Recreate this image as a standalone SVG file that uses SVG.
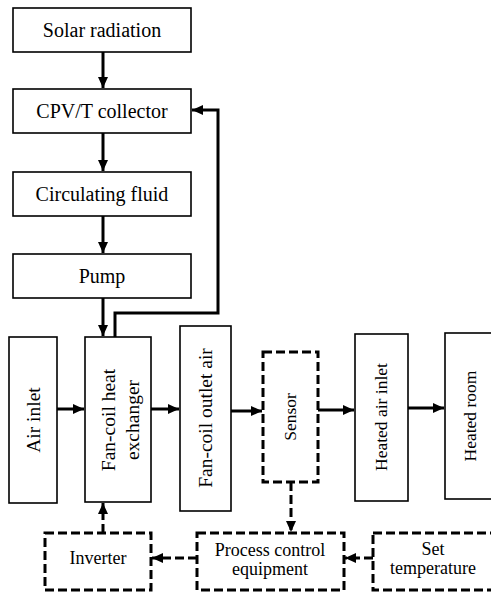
<svg xmlns="http://www.w3.org/2000/svg" width="491" height="594" viewBox="0 0 491 594">
<style>
.box{fill:#fff;stroke:#000;stroke-width:1.6}
.dbox{fill:#fff;stroke:#000;stroke-width:3;stroke-dasharray:9 4}
.t{fill:#000;text-anchor:middle}
.w{stroke:#000;stroke-width:3;fill:none}
.d{stroke:#000;stroke-width:3;fill:none;stroke-dasharray:9 4}
</style>
<defs>
<marker id="ah" markerUnits="userSpaceOnUse" markerWidth="12" markerHeight="12" viewBox="0 0 12 12" refX="11" refY="6" orient="auto">
<path d="M0,1 L11,6 L0,11 Z" fill="#000"/>
</marker>
</defs>
<g font-family="Liberation Serif, DejaVu Serif, serif">
<g id="solar"><rect class="box" x="13" y="8" width="178" height="44"/><text class="t" x="102" y="37" font-size="20">Solar radiation</text></g>
<g id="cpvt"><rect class="box" x="13" y="89" width="178" height="44"/><text class="t" x="102" y="118" font-size="20">CPV/T collector</text></g>
<g id="fluid"><rect class="box" x="13" y="172" width="178" height="44"/><text class="t" x="102" y="201" font-size="20">Circulating fluid</text></g>
<g id="pump"><rect class="box" x="13" y="254" width="178" height="44"/><text class="t" x="102" y="283" font-size="20">Pump</text></g>
<g id="airinlet"><rect class="box" x="9" y="337" width="48" height="166"/><text class="t" font-size="19.5" transform="translate(40,420) rotate(-90)">Air inlet</text></g>
<g id="fancoil"><rect class="box" x="85" y="337" width="66" height="165"/><text class="t" font-size="19.5" transform="translate(115,420) rotate(-90)">Fan-coil heat</text><text class="t" font-size="19.5" transform="translate(139,420) rotate(-90)">exchanger</text></g>
<g id="outletair"><rect class="box" x="180" y="326" width="51" height="185"/><text class="t" font-size="19.5" transform="translate(212,418) rotate(-90)">Fan-coil outlet air</text></g>
<g id="sensor"><rect class="dbox" x="263" y="352" width="55" height="130"/><text class="t" font-size="17.5" transform="translate(296,417) rotate(-90)">Sensor</text></g>
<g id="heatedair"><rect class="box" x="355" y="334" width="53" height="167"/><text class="t" font-size="17.5" transform="translate(387,417) rotate(-90)">Heated air inlet</text></g>
<g id="heatedroom"><rect class="box" x="445" y="333" width="50" height="166"/><text class="t" font-size="17.5" transform="translate(476,416) rotate(-90)">Heated room</text></g>
<g id="inverter"><rect class="dbox" x="45" y="533" width="106" height="57"/><text class="t" x="98" y="564" font-size="18">Inverter</text></g>
<g id="process"><rect class="dbox" x="197" y="533" width="147" height="57"/><text class="t" x="270" y="556" font-size="18">Process control</text><text class="t" x="270" y="575" font-size="18">equipment</text></g>
<g id="settemp"><rect class="dbox" x="373" y="533" width="124" height="57"/><text class="t" x="433" y="555" font-size="18">Set</text><text class="t" x="433" y="574" font-size="18">temperature</text></g>
</g>
<g id="connectors">
<line class="w" x1="103" y1="52" x2="103" y2="88" marker-end="url(#ah)"/>
<line class="w" x1="103" y1="133" x2="103" y2="171" marker-end="url(#ah)"/>
<line class="w" x1="103" y1="216" x2="103" y2="253" marker-end="url(#ah)"/>
<line class="w" x1="103" y1="298" x2="103" y2="336" marker-end="url(#ah)"/>
<path class="w" d="M115,337 V313 H218 V110 H192" marker-end="url(#ah)"/>
<line class="w" x1="57" y1="409" x2="84" y2="409" marker-end="url(#ah)"/>
<line class="w" x1="151" y1="409" x2="179" y2="409" marker-end="url(#ah)"/>
<line class="w" x1="231" y1="411" x2="262" y2="411" marker-end="url(#ah)"/>
<line class="w" x1="318" y1="410" x2="354" y2="410" marker-end="url(#ah)"/>
<line class="w" x1="408" y1="408" x2="444" y2="408" marker-end="url(#ah)"/>
<line class="d" x1="291" y1="482" x2="291" y2="532" marker-end="url(#ah)"/>
<line class="d" x1="197" y1="558" x2="152" y2="558" marker-end="url(#ah)"/>
<line class="d" x1="373" y1="558" x2="345" y2="558" marker-end="url(#ah)"/>
<line class="d" x1="103" y1="533" x2="103" y2="503" marker-end="url(#ah)"/>
</g>
</svg>
